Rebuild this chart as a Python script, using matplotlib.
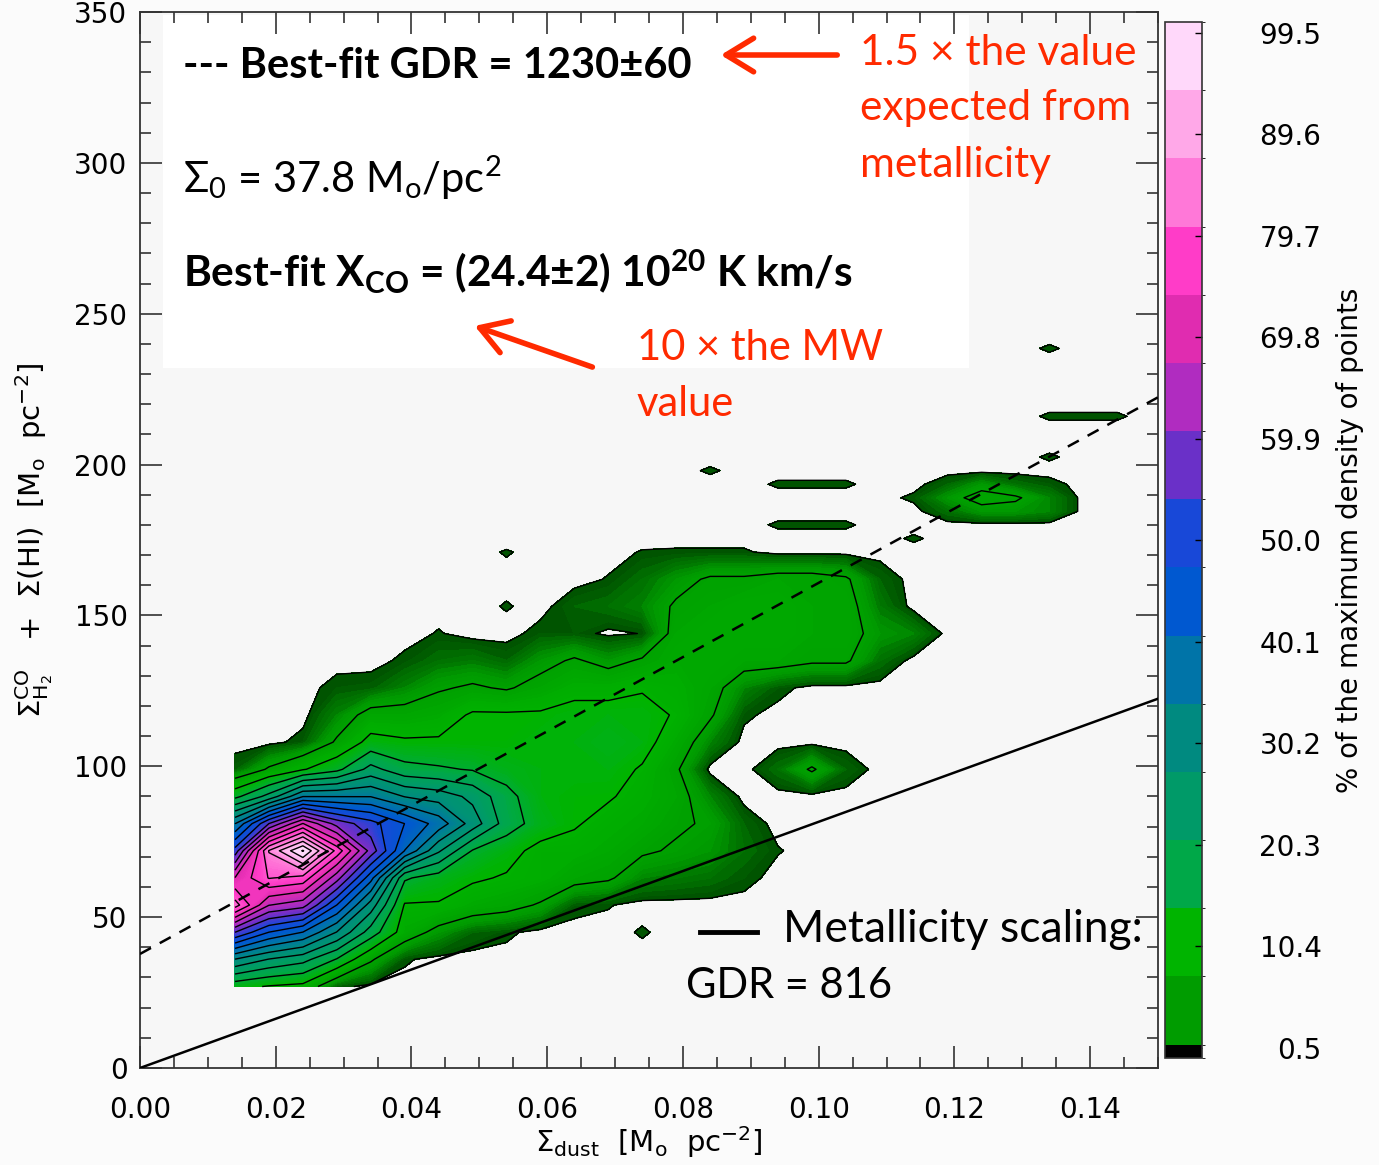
import numpy as np
import matplotlib.pyplot as plt
from matplotlib.colors import ListedColormap, BoundaryNorm, LinearSegmentedColormap, Normalize
from matplotlib.cm import ScalarMappable
from matplotlib.patches import Rectangle, FancyArrowPatch

plt.rcParams['font.family'] = ['DejaVu Sans']
plt.rcParams['mathtext.fontset'] = 'custom'
plt.rcParams['mathtext.rm'] = 'Lato'
plt.rcParams['mathtext.it'] = 'Lato:italic'
plt.rcParams['mathtext.bf'] = 'Lato:bold'

# density grid: columns = Sigma_dust, rows = Sigma_gas (finer spacing above 171)
sigma_dust = [0.014, 0.019, 0.024, 0.029, 0.034, 0.039, 0.044, 0.049, 0.054, 0.059,
              0.064, 0.069, 0.074, 0.079, 0.084, 0.089, 0.094, 0.099, 0.104, 0.109,
              0.114, 0.119, 0.124, 0.129, 0.134, 0.139, 0.144, 0.149]
sigma_gas = [27, 36, 45, 54, 63, 72, 81, 90, 99, 108, 117, 126, 135, 144, 153, 162, 171,
             175.5, 180, 184.5, 189, 193.5, 198, 202.5, 207, 211.5, 216, 220.5, 225,
             229.5, 234, 238.5, 243]

# % of the maximum density of points, one row per sigma_gas value (trailing zeros omitted)
density_rows = [
    [12, 10, 9, 1],
    [30, 25, 22, 15, 6, 0.7],
    [55, 45, 40, 30, 18, 8, 4, 1.5, 0.8, 0, 0, 0, 0.65],
    [82, 65, 62, 45, 28, 10, 10, 8, 7, 5, 1, 0.6],
    [70, 80, 78, 62, 42, 16, 13, 11, 10, 9, 7, 6, 3, 2.5, 2, 1],
    [52, 85, 100, 78, 58, 40, 26, 15, 12, 9, 9, 8, 6, 5, 4, 2, 0.6],
    [35, 55, 70, 58, 52, 45, 38, 28, 18, 13, 10.8, 9, 8, 6, 5, 1.5],
    [14, 22, 35, 35, 35, 30, 28, 24, 17, 12, 11, 10.8, 9, 7, 3],
    [1.2, 6, 10, 14, 22, 17, 16, 15, 13, 12, 12, 12, 10, 6, 0, 0, 2, 6, 1.5],
    [0, 0, 1, 6, 12, 11, 11, 11, 11, 12, 12, 13, 12, 8, 3],
    [0, 0, 0, 3, 7, 7, 8, 11, 11, 11, 12, 12, 12, 10, 6, 0.8],
    [0, 0, 0, 1, 1.2, 3, 5, 6, 5, 7, 9, 9, 10, 9, 7, 3, 1],
    [0, 0, 0, 0, 0, 0.8, 2, 2.5, 1.5, 4, 6, 4, 6, 8, 8, 7, 7, 6, 6, 2],
    [0, 0, 0, 0, 0, 0, 0.6, 0, 0, 1, 1, 0.2, 0.55, 7, 8, 8, 8, 7, 7, 4, 3],
    [0, 0, 0, 0, 0, 0, 0, 0, 0.62, 0, 1.5, 2, 3, 6, 7, 8, 8, 7, 7, 2.5],
    [0, 0, 0, 0, 0, 0, 0, 0, 0, 0, 0, 0.6, 2, 4, 6, 6, 7, 7, 6, 1.5],
    [0, 0, 0, 0, 0, 0, 0, 0, 0.62, 0, 0, 0, 0.6, 0.7, 0.7, 0.7],
    [0] * 20 + [0.7],
    [0] * 16 + [0.7, 0.7, 0.7],
    [0] * 21 + [2, 4, 4, 3],
    [0] * 20 + [0.8, 4, 7, 6, 3],
    [0] * 16 + [0.7, 0.7, 0.7, 0, 0, 1.5, 4, 2, 1],
    [0] * 14 + [0.7],
    [0] * 24 + [0.7],
    [],
    [],
    [0] * 24 + [0.7, 0.7, 0.7],
    [],
    [],
    [],
    [],
    [0] * 24 + [0.7],
    [],
]
density = np.array([r + [0] * (len(sigma_dust) - len(r)) for r in density_rows])

# fitted relations
gdr_fit = 1230
sigma0 = 37.8
gdr_metal = 816

# colour table of the colour bar
band_colors = ['#000000', '#009c00', '#00b400', '#00a848', '#009a68', '#008a80',
               '#0074a8', '#0058d0', '#1848d8', '#6a30c8', '#b02cc0', '#e02cb0',
               '#ff3cc8', '#ff78d8', '#ffa8e8', '#ffd8fa']
band_edges = [-0.5, 0.8, 7.45, 14.1, 20.75, 27.4, 34.05, 40.7, 47.35, 54.0, 60.65,
              67.3, 73.95, 80.6, 87.25, 93.9, 100.55]
cbar_ticks = [0.5, 10.4, 20.3, 30.2, 40.1, 50.0, 59.9, 69.8, 79.7, 89.6, 99.5]

W, H = 1379, 1165
fig = plt.figure(figsize=(W / 100, H / 100), dpi=100, facecolor='#fbfbfb')
ax = fig.add_axes([140 / W, 1 - 1068 / H, 1018 / W, 1056 / H], facecolor='#f7f7f7')

# smooth shading: dark green at the lowest level, band colours at band centres
vmin, vmax = 0.5, band_edges[-1]
nodes = [0.5] + [(band_edges[i] + band_edges[i + 1]) / 2 for i in range(1, 16)] + [vmax]
cols = ['#005400'] + band_colors[1:] + [band_colors[-1]]
fill_cmap = LinearSegmentedColormap.from_list(
    'shade', [((v - vmin) / (vmax - vmin), c) for v, c in zip(nodes, cols)])

cf = ax.contourf(sigma_dust, sigma_gas, density, levels=np.arange(0.5, 100.6, 0.5),
                 cmap=fill_cmap, norm=Normalize(vmin, vmax), zorder=1)
cf.set_edgecolor('face')
cf.set_linewidth(0.4)
ax.contour(sigma_dust, sigma_gas, density, levels=np.linspace(0.5, 99.5, 21),
           colors='k', linewidths=1.0, zorder=2)

xl = np.array([0.0, 0.15])
ax.plot(xl, sigma0 + gdr_fit * xl, color='k', lw=1.8, dashes=(5, 4), zorder=3)
ax.plot(xl, gdr_metal * xl, color='k', lw=1.8, zorder=3)

# white panel behind the fit results
ax.add_patch(Rectangle((0.0226, 0.663), 0.792, 0.334, transform=ax.transAxes,
                       facecolor='white', edgecolor='none', zorder=0.5))

ax.set_xlim(0, 0.15)
ax.set_ylim(0, 350)
ax.set_xticks([0.0, 0.02, 0.04, 0.06, 0.08, 0.10, 0.12, 0.14])
ax.set_xticklabels(['0.00', '0.02', '0.04', '0.06', '0.08', '0.10', '0.12', '0.14'])
ax.set_xticks(np.arange(0, 0.1501, 0.005), minor=True)
ax.set_yticks(np.arange(0, 351, 50))
ax.set_yticks(np.arange(0, 351, 10), minor=True)
ax.tick_params(which='both', direction='in', top=True, right=True, width=1.1, color='#222222')
ax.tick_params(which='major', length=16)
ax.tick_params(which='minor', length=8)
ax.tick_params(axis='x', labelsize=20, pad=20)
ax.tick_params(axis='y', labelsize=20, pad=9)
for s in ax.spines.values():
    s.set_linewidth(1.3)
    s.set_color('#333333')

ax.set_xlabel(r'$\Sigma_{\rm dust}$  [M$_{\rm o}$  pc$^{-2}$]', fontsize=21, va='center')
ax.xaxis.label.set_math_fontfamily('dejavusans')
ax.xaxis.set_label_coords(0.5, -0.07)
ax.set_ylabel(r'$\Sigma^{\rm CO}_{\rm H_2}$   +  $\Sigma$(HI)  [M$_{\rm o}$  pc$^{-2}$]',
              fontsize=21, va='center')
ax.yaxis.label.set_math_fontfamily('dejavusans')
ax.yaxis.set_label_coords(-0.104, 0.5)

# colour bar
cax = fig.add_axes([1165 / W, 1 - 1058 / H, 37 / W, 1036 / H])
sm = ScalarMappable(norm=BoundaryNorm(band_edges, len(band_colors)), cmap=ListedColormap(band_colors))
cb = fig.colorbar(sm, cax=cax, ticks=cbar_ticks, spacing='proportional')
cb.ax.set_yticklabels(['%.1f' % t for t in cbar_ticks])
cb.ax.tick_params(direction='in', length=5, width=1, labelsize=20, pad=86)
for t in cb.ax.get_yticklabels():
    t.set_horizontalalignment('right')
cb.outline.set_linewidth(1.2)
cb.outline.set_edgecolor('#333333')
fig.text(1350 / W, 1 - 540 / H, '% of the maximum density of points', rotation=90,
         ha='center', va='center', fontsize=20)


def fpos(x, y):
    return x / W, 1 - y / H


red = '#ff2a00'
pm = '\u00b1'
txt = dict(family=['Lato', 'DejaVu Sans'], va='baseline', ha='left')
fig.text(*fpos(183, 78), '--- Best-fit GDR = 1230' + pm + '60', fontsize=30, weight='bold', **txt)
fig.text(*fpos(183, 193), r'$\Sigma_0$ = 37.8 M$_{\rm o}$/pc$^2$', fontsize=30, **txt)
fig.text(*fpos(183, 287), r'Best-fit X$_{\mathbf{CO}}$ = (24.4' + pm + r'2) 10$^{\mathbf{20}}$ K km/s',
         fontsize=30.5, weight='bold', **txt)
fig.text(*fpos(860, 65), '1.5 \u00d7 the value', fontsize=30.5, color=red, **txt)
fig.text(*fpos(860, 120), 'expected from', fontsize=30.5, color=red, **txt)
fig.text(*fpos(860, 177), 'metallicity', fontsize=30.5, color=red, **txt)
fig.text(*fpos(637, 360), '10 \u00d7 the MW', fontsize=30, color=red, **txt)
fig.text(*fpos(637, 416), 'value', fontsize=30, color=red, **txt)
fig.text(*fpos(783, 942), 'Metallicity scaling:', fontsize=32, **txt)
fig.text(*fpos(686, 998), 'GDR = 816', fontsize=30, **txt)
fig.add_artist(plt.Line2D([700 / W, 757 / W], [1 - 932 / H, 1 - 932 / H], color='k', lw=3.5,
                          transform=fig.transFigure))

for (x0, y0), (x1, y1) in [((840, 55), (718, 55)), ((595, 368), (472, 325))]:
    fig.add_artist(FancyArrowPatch(fpos(x0, y0), fpos(x1, y1), transform=fig.transFigure,
                                   arrowstyle='->,head_length=0.9,head_width=0.55',
                                   mutation_scale=22, color=red, lw=4))

fig.savefig('out.png', dpi=100, facecolor=fig.get_facecolor())
